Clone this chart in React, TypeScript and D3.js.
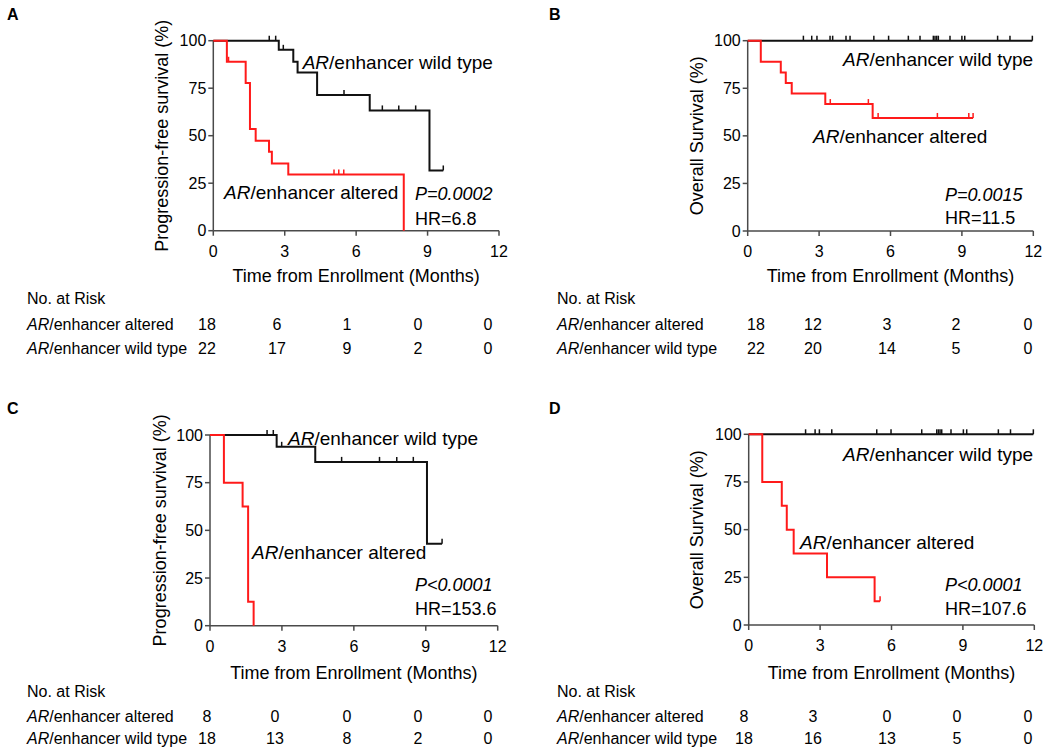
import React from "react";
import * as d3 from "d3";

// ---------- data ----------
const timeTicks = [0, 3, 6, 9, 12];
const survTicks = [0, 25, 50, 75, 100];
const riskTimes = [0, 3, 6, 9, 12];

// Panel A: progression-free survival (cohort 1)
const aAlteredEventTimes = [0.57, 1.36, 1.54, 1.78, 2.34, 2.46, 3.15, 8.0];
const aAlteredSurvival = [88.9, 77.8, 53.5, 47.4, 41.6, 35.4, 29.6, 0];
const aAlteredCensor = [0.64, 5.07, 5.27, 5.48];
const aWildEventTimes = [2.75, 3.36, 3.54, 4.36, 6.57, 9.08];
const aWildSurvival = [95.2, 88.9, 83.2, 71.4, 63.3, 31.7];
const aWildCensor = [2.35, 2.62, 2.94, 5.49, 7.1, 7.79, 8.5, 9.66];
const aRiskAltered = [18, 6, 1, 0, 0];
const aRiskWild = [22, 17, 9, 2, 0];

// Panel B: overall survival (cohort 1)
const bAlteredEventTimes = [0.55, 1.39, 1.6, 1.85, 3.26, 5.25];
const bAlteredSurvival = [88.9, 83.3, 77.8, 72.2, 66.7, 59.4];
const bAlteredCensor = [3.47, 5.07, 5.48, 7.97, 9.29, 9.47];
const bWildEventTimes: number[] = [];
const bWildSurvival: number[] = [];
const bWildCensor = [2.34, 2.69, 2.91, 3.46, 3.57, 4.13, 4.3, 5.3, 5.92, 6.75, 7.24, 7.8, 7.87, 7.94, 8.01, 8.5, 9.0, 9.12, 10.5, 11.02, 11.96];
const bRiskAltered = [18, 12, 3, 2, 0];
const bRiskWild = [22, 20, 14, 5, 0];

// Panel C: progression-free survival (cohort 2)
const cAlteredEventTimes = [0.58, 1.36, 1.59, 1.82];
const cAlteredSurvival = [75, 62.5, 12.5, 0];
const cAlteredCensor: number[] = [];
const cWildEventTimes = [2.78, 4.39, 9.05];
const cWildSurvival = [93.8, 85.9, 43.0];
const cWildCensor = [2.38, 2.64, 2.99, 5.49, 7.07, 7.79, 8.48, 9.68];
const cRiskAltered = [8, 0, 0, 0, 0];
const cRiskWild = [18, 13, 8, 2, 0];

// Panel D: overall survival (cohort 2)
const dAlteredEventTimes = [0.57, 1.39, 1.6, 1.89, 3.29, 5.29];
const dAlteredSurvival = [75, 62.5, 50, 37.5, 25, 12.5];
const dAlteredCensor = [5.52];
const dWildEventTimes: number[] = [];
const dWildSurvival: number[] = [];
const dWildCensor = [2.39, 2.79, 2.97, 3.49, 5.38, 5.98, 7.27, 7.9, 7.97, 8.04, 8.11, 8.5, 9.02, 9.16, 10.49, 11.0, 11.96];
const dRiskAltered = [8, 3, 0, 0, 0];
const dRiskWild = [18, 16, 13, 5, 0];

const pfsLabel = "Progression-free survival (%)";
const osLabel = "Overall Survival (%)";
const xTitle = "Time from Enrollment (Months)";

// ---------- styles ----------
const FONT = "'Liberation Sans', Arial, Helvetica, sans-serif";
const RED = "#ff1a1a";
const BLACK = "#111";
const AXIS = "#4a4a4a";

type Curve = { times: number[]; surv: number[]; censor: number[] };

type Panel = {
  letter: string;
  letterX: number;
  letterY: number;
  x0: number;
  x1: number;
  yTop: number;
  yBot: number;
  yLabel: string;
  yLabelX: number;
  titleY: number;
  altered: Curve;
  wild: Curve;
  riskAltered: number[];
  riskWild: number[];
  riskLabelX: number;
  riskHeaderY: number;
  riskRow1Y: number;
  riskRow2Y: number;
  riskColX: number[];
  wildLabel: [number, number];
  alteredLabel: [number, number];
  pText: string;
  hrText: string;
  statX: number;
  pY: number;
  hrY: number;
};

const panels: Panel[] = [
  {
    letter: "A", letterX: 7, letterY: 20, x0: 213.3, x1: 499, yTop: 40.7, yBot: 230.7,
    yLabel: pfsLabel, yLabelX: 168, titleY: 281.5,
    altered: { times: aAlteredEventTimes, surv: aAlteredSurvival, censor: aAlteredCensor },
    wild: { times: aWildEventTimes, surv: aWildSurvival, censor: aWildCensor },
    riskAltered: aRiskAltered, riskWild: aRiskWild,
    riskLabelX: 27, riskHeaderY: 304, riskRow1Y: 330, riskRow2Y: 354,
    riskColX: [207, 277, 347, 418, 488],
    wildLabel: [302.7, 62], alteredLabel: [224, 192],
    pText: "P=0.0002", hrText: "HR=6.8", statX: 415, pY: 193, hrY: 218,
  },
  {
    letter: "B", letterX: 549, letterY: 20, x0: 747.7, x1: 1033.3, yTop: 40.7, yBot: 231,
    yLabel: osLabel, yLabelX: 703, titleY: 281.5,
    altered: { times: bAlteredEventTimes, surv: bAlteredSurvival, censor: bAlteredCensor },
    wild: { times: bWildEventTimes, surv: bWildSurvival, censor: bWildCensor },
    riskAltered: bRiskAltered, riskWild: bRiskWild,
    riskLabelX: 557, riskHeaderY: 304, riskRow1Y: 330, riskRow2Y: 354,
    riskColX: [756, 813, 887, 956, 1028],
    wildLabel: [843, 59], alteredLabel: [813, 136],
    pText: "P=0.0015", hrText: "HR=11.5", statX: 945, pY: 194, hrY: 217,
  },
  {
    letter: "C", letterX: 7, letterY: 414, x0: 210, x1: 497.7, yTop: 435, yBot: 625.7,
    yLabel: pfsLabel, yLabelX: 166, titleY: 679,
    altered: { times: cAlteredEventTimes, surv: cAlteredSurvival, censor: cAlteredCensor },
    wild: { times: cWildEventTimes, surv: cWildSurvival, censor: cWildCensor },
    riskAltered: cRiskAltered, riskWild: cRiskWild,
    riskLabelX: 27, riskHeaderY: 697, riskRow1Y: 721.5, riskRow2Y: 743.5,
    riskColX: [207, 275, 347, 418, 488],
    wildLabel: [288, 438], alteredLabel: [252, 552],
    pText: "P<0.0001", hrText: "HR=153.6", statX: 415, pY: 584, hrY: 608,
  },
  {
    letter: "D", letterX: 549, letterY: 414, x0: 748.7, x1: 1034.3, yTop: 434.3, yBot: 625,
    yLabel: osLabel, yLabelX: 703, titleY: 679,
    altered: { times: dAlteredEventTimes, surv: dAlteredSurvival, censor: dAlteredCensor },
    wild: { times: dWildEventTimes, surv: dWildSurvival, censor: dWildCensor },
    riskAltered: dRiskAltered, riskWild: dRiskWild,
    riskLabelX: 557, riskHeaderY: 697, riskRow1Y: 721.5, riskRow2Y: 743.5,
    riskColX: [744, 813, 887, 957, 1028],
    wildLabel: [843, 454], alteredLabel: [800, 542],
    pText: "P<0.0001", hrText: "HR=107.6", statX: 945, pY: 584, hrY: 608,
  },
];

function survivalAt(c: Curve, t: number) {
  let s = 100;
  for (let i = 0; i < c.times.length; i++) if (c.times[i] <= t) s = c.surv[i];
  return s;
}

function curvePoints(c: Curve): [number, number][] {
  const pts: [number, number][] = [[0, 100]];
  c.times.forEach((t, i) => pts.push([t, c.surv[i]]));
  const lastEvent = c.times.length ? c.times[c.times.length - 1] : 0;
  const lastCensor = c.censor.length ? Math.max(...c.censor) : 0;
  const end = Math.max(lastEvent, lastCensor);
  pts.push([end, survivalAt(c, end)]);
  return pts;
}

function ArLabel({ x, y, text, size }: { x: number; y: number; text: string; size: number }) {
  return (
    <text x={x} y={y} fontSize={size} fontFamily={FONT} fill="#000">
      <tspan fontStyle="italic">AR</tspan>
      <tspan>{text}</tspan>
    </text>
  );
}

function KMPanel({ p }: { p: Panel }) {
  const x = d3.scaleLinear().domain([0, 12]).range([p.x0, p.x1]);
  const y = d3.scaleLinear().domain([0, 100]).range([p.yBot, p.yTop]);
  const line = d3
    .line<[number, number]>()
    .x((d) => x(d[0]))
    .y((d) => y(d[1]))
    .curve(d3.curveStepAfter);

  const drawCurve = (c: Curve, color: string) => (
    <g>
      <path d={line(curvePoints(c)) || ""} fill="none" stroke={color} strokeWidth={2} />
      {c.censor.map((t, i) => {
        const s = survivalAt(c, t);
        return (
          <line key={i} x1={x(t)} x2={x(t)} y1={y(s)} y2={y(s) - 5} stroke={color} strokeWidth={1.5} />
        );
      })}
    </g>
  );

  const midY = (p.yTop + p.yBot) / 2;
  return (
    <g>
      <text x={p.letterX} y={p.letterY} fontSize={16} fontWeight="bold" fontFamily={FONT}>
        {p.letter}
      </text>
      {/* axes */}
      <line x1={p.x0} x2={p.x0} y1={p.yTop} y2={p.yBot} stroke={AXIS} strokeWidth={1.5} />
      <line x1={p.x0} x2={p.x1} y1={p.yBot} y2={p.yBot} stroke={AXIS} strokeWidth={1.5} />
      {survTicks.map((v) => (
        <g key={"y" + v}>
          <line x1={p.x0 - 5} x2={p.x0} y1={y(v)} y2={y(v)} stroke={AXIS} strokeWidth={1.5} />
          <text x={p.x0 - 7} y={y(v) + 5.5} textAnchor="end" fontSize={16} fontFamily={FONT}>
            {v}
          </text>
        </g>
      ))}
      {timeTicks.map((v) => (
        <g key={"x" + v}>
          <line x1={x(v)} x2={x(v)} y1={p.yBot} y2={p.yBot + 5} stroke={AXIS} strokeWidth={1.5} />
          <text x={x(v)} y={p.yBot + 26} textAnchor="middle" fontSize={16} fontFamily={FONT}>
            {v}
          </text>
        </g>
      ))}
      <text
        transform={`translate(${p.yLabelX},${midY}) rotate(-90)`}
        textAnchor="middle"
        fontSize={18}
        fontFamily={FONT}
      >
        {p.yLabel}
      </text>
      <text x={(p.x0 + p.x1) / 2} y={p.titleY} textAnchor="middle" fontSize={18} fontFamily={FONT}>
        {xTitle}
      </text>

      {/* curves */}
      {drawCurve(p.wild, BLACK)}
      {drawCurve(p.altered, RED)}

      {/* annotations */}
      <ArLabel x={p.wildLabel[0]} y={p.wildLabel[1] + 6.5} text="/enhancer wild type" size={19} />
      <ArLabel x={p.alteredLabel[0]} y={p.alteredLabel[1] + 6.5} text="/enhancer altered" size={19} />
      <text x={p.statX} y={p.pY + 6.5} fontSize={18} fontStyle="italic" fontFamily={FONT}>
        {p.pText}
      </text>
      <text x={p.statX} y={p.hrY + 6.5} fontSize={18} fontFamily={FONT}>
        {p.hrText}
      </text>

      {/* risk table */}
      <text x={p.riskLabelX} y={p.riskHeaderY} fontSize={16} fontFamily={FONT}>
        No. at Risk
      </text>
      <ArLabel x={p.riskLabelX} y={p.riskRow1Y} text="/enhancer altered" size={16} />
      <ArLabel x={p.riskLabelX} y={p.riskRow2Y} text="/enhancer wild type" size={16} />
      {riskTimes.map((t, i) => (
        <g key={"r" + t}>
          <text x={p.riskColX[i]} y={p.riskRow1Y} textAnchor="middle" fontSize={16} fontFamily={FONT}>
            {p.riskAltered[i]}
          </text>
          <text x={p.riskColX[i]} y={p.riskRow2Y} textAnchor="middle" fontSize={16} fontFamily={FONT}>
            {p.riskWild[i]}
          </text>
        </g>
      ))}
    </g>
  );
}

export default function App() {
  return (
    <svg
      width={1050}
      height={756}
      viewBox="0 0 1050 756"
      style={{ position: "absolute", left: 0, top: 0, background: "#fff" }}
    >
      <rect width={1050} height={756} fill="#fff" />
      {panels.map((p) => (
        <KMPanel key={p.letter} p={p} />
      ))}
    </svg>
  );
}
